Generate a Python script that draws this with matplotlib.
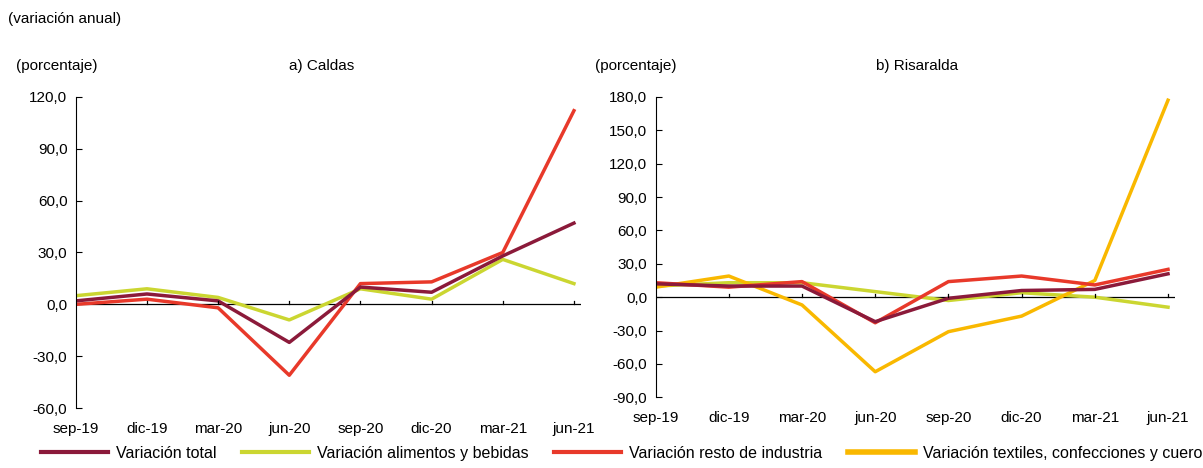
import numpy as np
import matplotlib.pyplot as plt

plt.rcParams['font.family'] = ['Liberation Sans', 'DejaVu Sans']

periods = ['sep-19', 'dic-19', 'mar-20', 'jun-20', 'sep-20', 'dic-20', 'mar-21', 'jun-21']

caldas_total = [2, 6, 2, -22, 10, 7, 28, 47]
caldas_alim = [5, 9, 4, -9, 9, 3, 26, 12]
caldas_resto = [0, 3, -2, -41, 12, 13, 30, 112]

ris_total = [12, 10, 10, -22, -1, 6, 7, 21]
ris_alim = [10, 13, 13, 5, -3, 4, 0, -9]
ris_resto = [13, 9, 14, -23, 14, 19, 11, 25]
ris_text = [9, 19, -7, -67, -31, -17, 15, 177]

C_TOTAL = '#8B1A3A'
C_ALIM = '#CBD631'
C_RESTO = '#E8392A'
C_TEXT = '#F9B800'

fig = plt.figure(figsize=(12.03, 4.68), dpi=100)
ax1 = fig.add_axes([0.063, 0.128, 0.42, 0.665])
ax2 = fig.add_axes([0.545, 0.151, 0.432, 0.642])


def fmt(v):
    return f'{v:.1f}'.replace('.', ',')


def style(ax, ymin, ymax, step):
    x = np.arange(len(periods))
    ax.set_xlim(0, len(periods) - 1 + 0.1)
    ax.set_ylim(ymin, ymax)
    yt = np.arange(ymin, ymax + 1, step)
    ax.set_yticks(yt)
    ax.set_yticklabels([fmt(v) for v in yt], fontsize=11)
    ax.set_xticks(x)
    ax.set_xticklabels(periods, fontsize=11)
    ax.tick_params(axis='x', length=0, pad=10)
    ax.tick_params(axis='y', direction='in', length=4, pad=6)
    for s in ['top', 'right', 'bottom']:
        ax.spines[s].set_visible(False)
    ax.axhline(0, color='black', lw=0.9, zorder=1)
    for xv in x[1:]:
        ax.plot([xv, xv], [0, (ymax - ymin) * 0.012], color='black', lw=0.9)


x = np.arange(len(periods))
ax1.plot(x, caldas_alim, color=C_ALIM, lw=2.5)
ax1.plot(x, caldas_resto, color=C_RESTO, lw=2.5)
ax1.plot(x, caldas_total, color=C_TOTAL, lw=2.5)
style(ax1, -60, 120, 30)

ax2.plot(x, ris_alim, color=C_ALIM, lw=2.5)
ax2.plot(x, ris_text, color=C_TEXT, lw=2.5)
ax2.plot(x, ris_resto, color=C_RESTO, lw=2.5)
ax2.plot(x, ris_total, color=C_TOTAL, lw=2.5)
style(ax2, -90, 180, 30)

fig.text(0.007, 0.95, '(variación anual)', fontsize=11)
fig.text(0.013, 0.85, '(porcentaje)', fontsize=11)
fig.text(0.24, 0.85, 'a) Caldas', fontsize=11)
fig.text(0.495, 0.85, '(porcentaje)', fontsize=11)
fig.text(0.728, 0.85, 'b) Risaralda', fontsize=11)

handles = [
    plt.Line2D([], [], color=C_TOTAL, lw=3),
    plt.Line2D([], [], color=C_ALIM, lw=3),
    plt.Line2D([], [], color=C_RESTO, lw=3),
    plt.Line2D([], [], color=C_TEXT, lw=4),
]
labels = ['Variación total', 'Variación alimentos y bebidas',
          'Variación resto de industria', 'Variación textiles, confecciones y cuero']
fig.legend(handles, labels, loc='lower left', bbox_to_anchor=(0.022, -0.015), ncol=4,
           frameon=False, fontsize=11.5, handlelength=4.2, handletextpad=0.5,
           columnspacing=1.6)

fig.savefig('out.png', dpi=100)
